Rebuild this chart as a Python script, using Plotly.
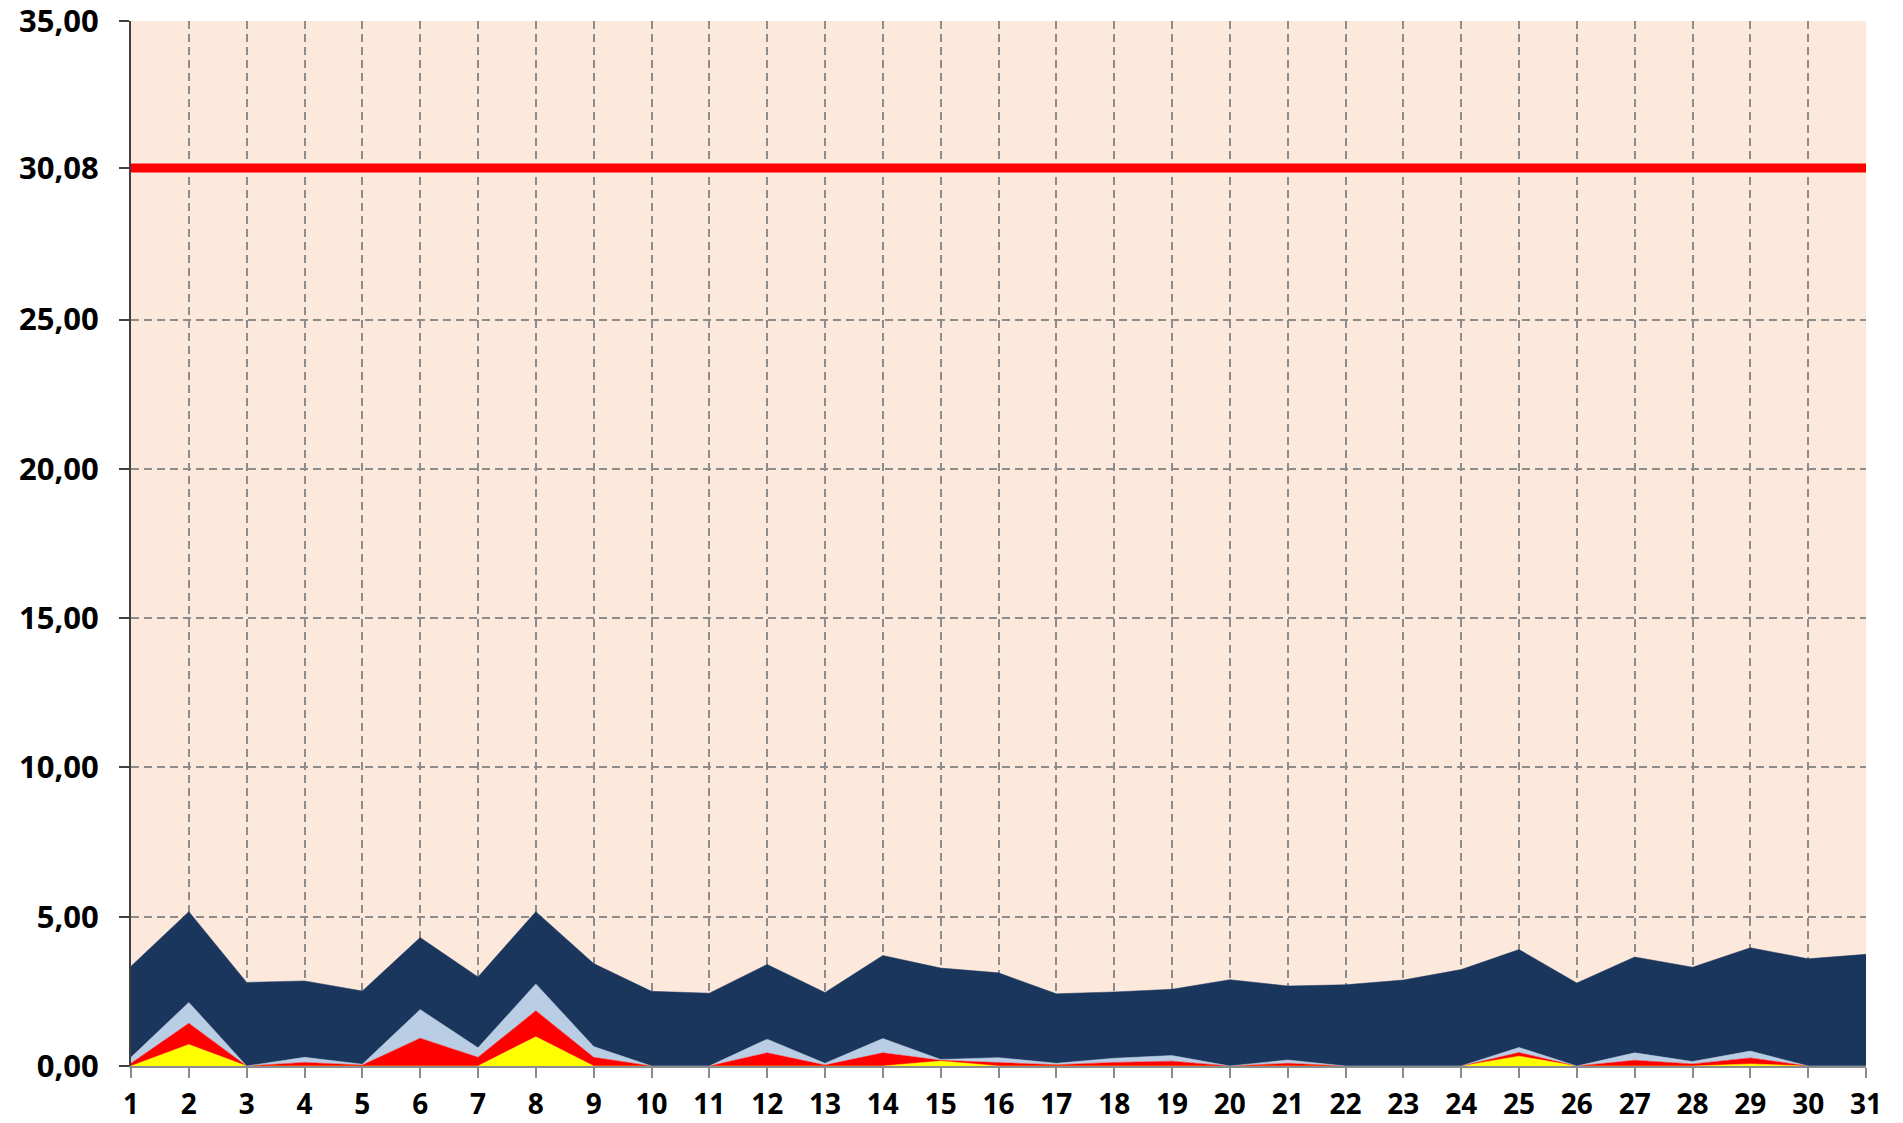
import plotly.graph_objects as go

days = list(range(1, 32))
yellow = [0, 0.72, 0, 0, 0, 0, 0, 0.98, 0, 0, 0, 0, 0, 0, 0.17, 0, 0, 0, 0, 0, 0, 0, 0, 0, 0.33, 0, 0, 0, 0.07, 0, 0]
red = [0.09, 0.71, 0, 0.12, 0.03, 0.93, 0.29, 0.87, 0.29, 0, 0, 0.44, 0.03, 0.44, 0.02, 0.12, 0.04, 0.12, 0.16, 0, 0.09, 0, 0, 0, 0.12, 0, 0.19, 0.07, 0.20, 0, 0]
lightblue = [0.20, 0.70, 0, 0.17, 0.03, 0.96, 0.32, 0.90, 0.36, 0, 0, 0.46, 0.06, 0.48, 0.03, 0.16, 0.05, 0.14, 0.19, 0, 0.11, 0, 0, 0, 0.17, 0, 0.25, 0.08, 0.23, 0, 0]
navy = [3.05, 3.04, 2.80, 2.56, 2.45, 2.41, 2.37, 2.42, 2.78, 2.50, 2.44, 2.50, 2.37, 2.78, 3.06, 2.84, 2.33, 2.22, 2.22, 2.89, 2.48, 2.72, 2.88, 3.23, 3.28, 2.78, 3.21, 3.16, 3.46, 3.59, 3.74]
limit = 30.08

ytick_vals = [0, 5, 10, 15, 20, 25, limit, 35]
ytick_text = ["0,00", "5,00", "10,00", "15,00", "20,00", "25,00", "30,08", "35,00"]

FONT = "Open Sans"

fig = go.Figure()
for name, vals, col in [("yellow", yellow, "#FFFF00"), ("red", red, "#FF0000"),
                        ("lightblue", lightblue, "#B9CDE5"), ("navy", navy, "#1A365D")]:
    fig.add_trace(go.Scatter(x=days, y=vals, name=name, mode="lines", stackgroup="one",
                             line=dict(width=0.5, color=col), fillcolor=col, hoverinfo="skip"))

fig.add_trace(go.Scatter(x=[days[0], days[-1]], y=[limit, limit], mode="lines",
                         line=dict(color="#FF0000", width=9), cliponaxis=False, hoverinfo="skip"))

fig.update_layout(
    width=1903, height=1123,
    paper_bgcolor="white", plot_bgcolor="#FDE9DB",
    showlegend=False,
    margin=dict(l=131, r=37, t=21, b=57),
    font=dict(family=FONT, size=28, color="black"),
)
fig.update_xaxes(
    range=[1, 31], tickvals=days, ticktext=[str(d) for d in days],
    showgrid=True, gridcolor="#8C8C8C", gridwidth=2, griddash="8px,5px",
    showline=True, linecolor="#8C8C8C", linewidth=2,
    ticks="outside", ticklen=10, tickcolor="#8C8C8C", tickwidth=1.5,
    tickfont=dict(family=FONT, size=28, color="black", weight="bold"),
    ticklabelstandoff=2, ticklabeloverflow="allow",
    zeroline=False, automargin=False,
)
fig.update_yaxes(
    range=[0, 35], tickvals=ytick_vals, ticktext=ytick_text,
    showgrid=True, gridcolor="#8C8C8C", gridwidth=2, griddash="8px,5px",
    showline=True, linecolor="#404040", linewidth=2,
    ticks="outside", ticklen=10, tickcolor="#404040", tickwidth=1.5,
    tickfont=dict(family=FONT, size=31, color="black", weight="bold"),
    ticklabelstandoff=14, ticklabeloverflow="allow",
    zeroline=False, automargin=False,
)

fig.write_html("out.html", config={"displayModeBar": False},
               post_script="document.body.style.margin='0';")
